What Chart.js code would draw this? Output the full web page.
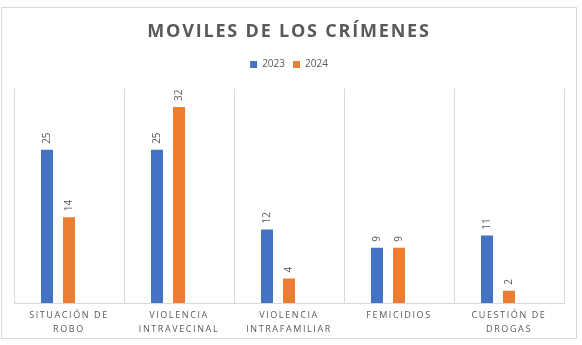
<!DOCTYPE html>
<html><head><meta charset="utf-8">
<script src="https://cdn.jsdelivr.net/npm/chart.js@4/dist/chart.umd.min.js"></script>
<style>html,body{margin:0;padding:0;background:#fff}#wrap{width:582px;height:345px;position:relative}</style>
</head><body><div id="wrap"><canvas id="c" width="582" height="345"></canvas></div>
<script>
const categories = [["SITUACIÓN DE","ROBO"],["VIOLENCIA","INTRAVECINAL"],["VIOLENCIA","INTRAFAMILIAR"],["FEMICIDIOS"],["CUESTIÓN DE","DROGAS"]];
const seriesNames = ["2023","2024"];
const values2023 = [25,25,12,9,11];
const values2024 = [14,32,4,9,2];
const emptySeries = [null,null,null,null,null];
const chartTitle = "MOVILES DE LOS CRÍMENES";

const GREY = '#595959';
const FONT = "'Open Sans', sans-serif";

function withSpacing(obj, key, sp){
  if (!obj || obj['_sp_'+key]) return;
  const orig = obj[key];
  obj[key] = function(){
    const c = this.ctx; const prev = c.letterSpacing;
    c.letterSpacing = sp;
    const r = orig.apply(this, arguments);
    c.letterSpacing = prev;
    return r;
  };
  obj['_sp_'+key] = true;
}

const framePlugin = {
  id: 'frame',
  beforeLayout(chart){
    const lg = chart.legend;
    if (lg && !lg._extraFit){
      const origFit = lg.fit;
      lg.fit = function(){ origFit.apply(this, arguments); this.height += 9; };
      lg._extraFit = true;
    }
  },
  beforeDraw(chart){
    const ctx = chart.ctx;
    ctx.save();
    ctx.fillStyle = '#fff';
    ctx.fillRect(0,0,chart.width,chart.height);
    ctx.strokeStyle = '#d9d9d9';
    ctx.lineWidth = 1;
    ctx.strokeRect(1.5,7.5,575,331);
    ctx.restore();
    withSpacing(chart.titleBlock, 'draw', '1.8px');
    withSpacing(chart.scales.x, 'drawLabels', '1.6px');
  },
  afterDatasetsDraw(chart){
    const ctx = chart.ctx;
    ctx.save();
    ctx.fillStyle = GREY;
    ctx.font = "10px " + FONT;
    ctx.textAlign = 'left';
    ctx.textBaseline = 'middle';
    chart.data.datasets.forEach((ds, di) => {
      if (di > 1) return;
      const meta = chart.getDatasetMeta(di);
      meta.data.forEach((bar, i) => {
        const v = ds.data[i];
        if (v == null) return;
        ctx.save();
        ctx.translate(bar.x, bar.y - 6);
        ctx.rotate(-Math.PI/2);
        ctx.fillText(String(v), 0, 0);
        ctx.restore();
      });
    });
    ctx.restore();
  }
};

new Chart(document.getElementById('c'), {
  type: 'bar',
  data: {
    labels: categories,
    datasets: [
      {label: seriesNames[0], data: values2023, backgroundColor: '#4472C4', borderWidth: 0},
      {label: seriesNames[1], data: values2024, backgroundColor: '#ED7D31', borderWidth: 0},
      {label: '', data: emptySeries, backgroundColor: '#A5A5A5', borderWidth: 0}
    ]
  },
  options: {
    responsive: false,
    animation: false,
    devicePixelRatio: 1,
    categoryPercentage: 0.6,
    barPercentage: 0.545,
    layout: {padding: {left: 14, right: 18, top: 0, bottom: 3}},
    plugins: {
      title: {display: true, text: chartTitle, color: GREY,
        font: {family: FONT, size: 18, weight: 'bold', lineHeight: 1.2},
        padding: {top: 21, bottom: 9}},
      legend: {display: true, position: 'top',
        labels: {color: GREY, font: {family: FONT, size: 10}, boxWidth: 7, boxHeight: 7, padding: 8,
          filter: (item) => item.datasetIndex < 2}},
      tooltip: {enabled: false}
    },
    scales: {
      x: {
        grid: {display: true, offset: true, color: '#d9d9d9', drawTicks: false},
        border: {display: true, color: '#d9d9d9'},
        ticks: {color: GREY, font: {family: FONT, size: 9, lineHeight: 1.5}, padding: 6, maxRotation: 0, autoSkip: false}
      },
      y: {display: false, min: 0, max: 35}
    }
  },
  plugins: [framePlugin]
});
</script>
</body></html>
